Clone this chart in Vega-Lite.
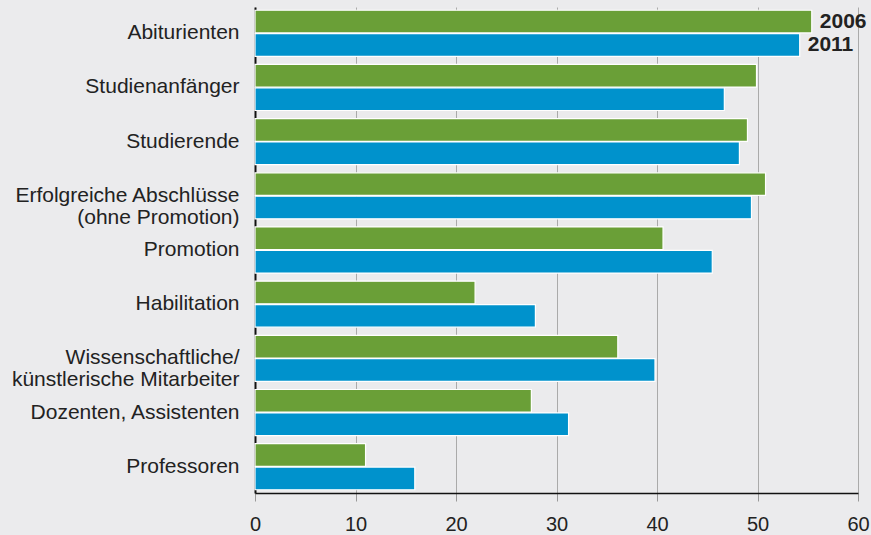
{
  "$schema": "https://vega.github.io/schema/vega-lite/v6.json",
  "width": 603,
  "height": 486,
  "autosize": {"type": "none"},
  "padding": {"left": 255, "top": 7, "right": 13, "bottom": 42},
  "background": "#ebebed",
  "config": {
    "view": {"stroke": null},
    "font": "Liberation Sans",
    "axis": {"labelFont": "Liberation Sans"},
    "text": {"font": "Liberation Sans"}
  },
  "data": {
    "values": [
      {"cat": "Abiturienten", "year": "2006", "value": 55.4},
      {"cat": "Abiturienten", "year": "2011", "value": 54.2},
      {"cat": "Studienanfänger", "year": "2006", "value": 49.9},
      {"cat": "Studienanfänger", "year": "2011", "value": 46.7},
      {"cat": "Studierende", "year": "2006", "value": 49.0},
      {"cat": "Studierende", "year": "2011", "value": 48.2},
      {"cat": "Erfolgreiche Abschlüsse|(ohne Promotion)", "year": "2006", "value": 50.8},
      {"cat": "Erfolgreiche Abschlüsse|(ohne Promotion)", "year": "2011", "value": 49.4},
      {"cat": "Promotion", "year": "2006", "value": 40.6},
      {"cat": "Promotion", "year": "2011", "value": 45.5},
      {"cat": "Habilitation", "year": "2006", "value": 21.9},
      {"cat": "Habilitation", "year": "2011", "value": 27.9},
      {"cat": "Wissenschaftliche/|künstlerische Mitarbeiter", "year": "2006", "value": 36.1},
      {"cat": "Wissenschaftliche/|künstlerische Mitarbeiter", "year": "2011", "value": 39.8},
      {"cat": "Dozenten, Assistenten", "year": "2006", "value": 27.5},
      {"cat": "Dozenten, Assistenten", "year": "2011", "value": 31.2},
      {"cat": "Professoren", "year": "2006", "value": 11.0},
      {"cat": "Professoren", "year": "2011", "value": 15.9}
    ]
  },
  "encoding": {
    "y": {
      "field": "cat",
      "type": "nominal",
      "sort": null,
      "title": null,
      "scale": {"paddingInner": 0.15, "paddingOuter": 0.06},
      "axis": {
        "labelExpr": "split(datum.value, '|')",
        "labelFont": "Liberation Sans",
        "labelFontSize": 21,
        "labelColor": "#222222",
        "labelPadding": 16,
        "labelLineHeight": 22,
        "ticks": false,
        "domainColor": "#111111",
        "domainWidth": 2,
        "labelLimit": 300
      }
    },
    "yOffset": {"field": "year", "type": "nominal", "scale": {"paddingInner": 0.03}},
    "x": {
      "field": "value",
      "type": "quantitative",
      "title": null,
      "scale": {"domain": [0, 60], "nice": false},
      "axis": {
        "values": [0, 10, 20, 30, 40, 50, 60],
        "labelFont": "Liberation Sans",
        "labelFontSize": 20,
        "labelColor": "#222222",
        "labelPadding": 13,
        "labelFlush": false,
        "domainColor": "#111111",
        "domainWidth": 1.5,
        "tickColor": "#999999",
        "tickSize": 8,
        "gridColor": "#aaaaaa",
        "gridWidth": 1
      }
    }
  },
  "layer": [
    {
      "mark": {"type": "bar", "stroke": "white", "strokeWidth": 1.2},
      "encoding": {
        "color": {
          "field": "year",
          "type": "nominal",
          "scale": {"domain": ["2006", "2011"], "range": ["#6a9f37", "#0092cc"]},
          "legend": null
        }
      }
    },
    {
      "transform": [{"filter": "datum.cat === 'Abiturienten'"}],
      "mark": {"type": "text", "align": "left", "dx": 8, "fontWeight": "bold", "fontSize": 21, "font": "Liberation Sans", "color": "#222222", "baseline": "middle"},
      "encoding": {"text": {"field": "year"}}
    }
  ]
}
